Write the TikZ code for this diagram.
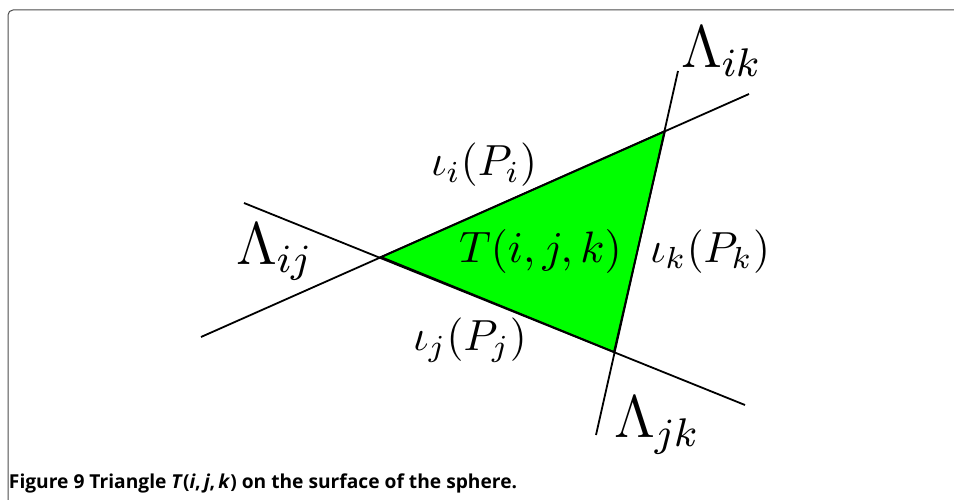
\RequirePackage{fix-cm}
\documentclass[tikz,border=0pt]{standalone}
\usepackage{fontspec}
\newfontfamily\capfont{Open Sans}
\newcommand{\biglab}[1]{\scalebox{5.0}{\fontsize{12}{14}\selectfont$#1$}}
\newcommand{\midlab}[1]{\scalebox{4.35}{$#1$}}
\newcommand{\trilab}[1]{\scalebox{4.4}{$#1$}}
\begin{document}
\begin{tikzpicture}[x=1pt,y=-1pt,line width=1.8pt,
  lbl/.style={anchor=base west,inner sep=0pt,outer sep=0pt,font=\fontsize{10}{12}\selectfont},
  frame/.style={line width=1pt,draw=black!70,rounded corners=5pt}]
\useasboundingbox (0,0) rectangle (954,500);
% frame
\draw[frame] (954,10) -- (8,10) -- (8,500);
% vertices
\coordinate (A) at (381,257);
\coordinate (B) at (665,131);
\coordinate (C) at (614,352);
% line end points
\coordinate (ab1) at (201,337);
\coordinate (ab2) at (749,94);
\coordinate (ac1) at (244,203);
\coordinate (ac2) at (745,405);
\coordinate (bc1) at (678,71);
\coordinate (bc2) at (596,435);
\fill[green] (A) -- (B) -- (C) -- cycle;
\draw (ab1) -- (ab2);
\draw (ac1) -- (ac2);
\draw (bc1) -- (bc2);
\draw[line join=miter] (A) -- (B) -- (C) -- cycle;
% labels
\node[lbl] (Lik) at (681,68) {\biglab{\Lambda_{ik}}};
\node[lbl] (Lij) at (236,264) {\biglab{\Lambda_{ij}}};
\node[lbl] (Ljk) at (614,437) {\biglab{\Lambda_{jk}}};
\node[lbl] (ii) at (431,176) {\midlab{\iota_i(P_i)}};
\node[lbl] (ij) at (413,350) {\midlab{\iota_j(P_j)}};
\node[lbl] (ik) at (650,262) {\midlab{\iota_k(P_k)}};
\node[lbl] (T) at (459,262) {\trilab{T(i,j,k)}};
\node[lbl,font=\capfont\bfseries\fontsize{19.2}{22}\selectfont] (cap) at (9,488)
  {Figure 9 Triangle \textit{T}(\textit{i},\,\textit{j},\,\textit{k}) on the surface of the sphere.};
\end{tikzpicture}
\end{document}
